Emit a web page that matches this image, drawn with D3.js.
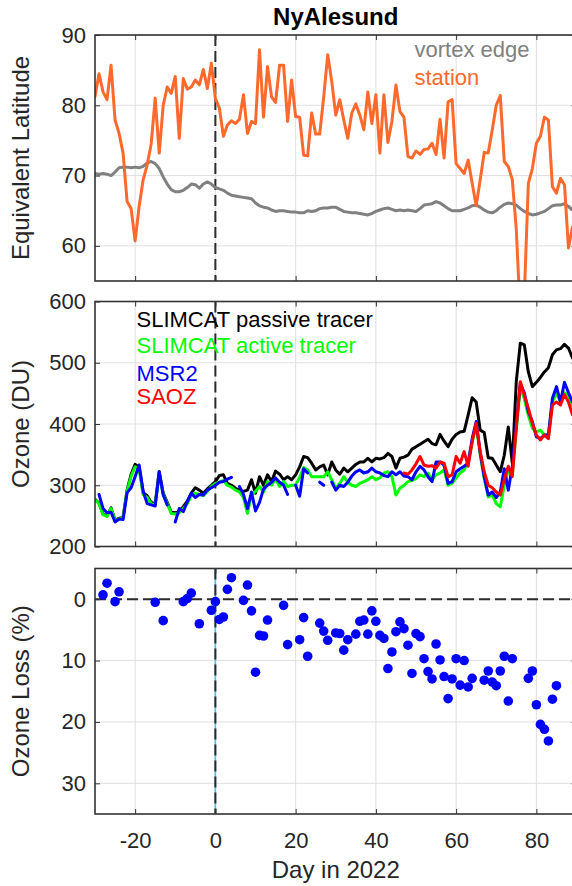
<!DOCTYPE html>
<html><head><meta charset="utf-8">
<script src="https://cdn.jsdelivr.net/npm/d3@7"></script>
<style>body{margin:0;background:#fff}svg{display:block}</style>
</head><body>
<svg id="c" width="572" height="886"></svg>
<script>
// ---------------- DATA ----------------
const dayStart = -30; // first day of the daily series (day -30 .. 89)
const xTickValues = [-20, 0, 20, 40, 60, 80];
const latTicks = [60, 70, 80, 90];
const ozoneTicks = [200, 300, 400, 500, 600];
const lossTicks = [0, 10, 20, 30];

// Panel 1: equivalent latitude
const station = [81.2, 84.5, 81.9, 80.8, 85.7, 77.9, 76.0, 73.2, 66.3, 65.3,
  60.7, 65.6, 69.4, 71.5, 74.5, 81.0, 73.2, 80.0, 82.6, 81.7,
  84.1, 75.3, 83.8, 82.3, 82.6, 83.6, 82.9, 85.1, 82.4, 86.0,
  81.0, 79.6, 75.6, 77.2, 77.8, 77.4, 78.0, 81.5, 76.0, 77.7,
  77.4, 87.9, 78.3, 85.5, 81.2, 80.4, 85.7, 85.7, 77.7, 83.6,
  78.4, 78.3, 72.9, 72.8, 78.9, 75.9, 75.9, 81.2, 87.2, 83.4,
  78.6, 80.8, 77.9, 75.3, 78.9, 80.2, 78.6, 76.5, 81.9, 77.4,
  81.5, 73.2, 81.5, 74.7, 77.7, 82.9, 79.1, 78.3, 72.7, 72.5,
  73.5, 73.0, 73.7, 73.8, 74.6, 73.0, 78.0, 72.5, 80.5, 80.8,
  71.7, 71.0, 70.3, 72.2, 68.9, 65.7, 69.4, 73.3, 73.2, 76.5,
  80.0, 81.4, 72.0, 71.3, 69.4, 62.3, 50.0, 53.0, 68.9, 71.0,
  74.6, 75.6, 78.3, 77.9, 68.4, 67.5, 69.6, 68.7, 59.7, 62.7];

const vortexEdge = [70.3, 70.2, 70.3, 70.2, 70.0, 70.5, 71.1, 71.2, 71.2, 71.1,
  71.2, 71.1, 71.3, 71.8, 72.0, 71.7, 71.0, 69.8, 68.8, 68.0,
  67.7, 67.7, 67.9, 68.3, 68.8, 68.7, 68.2, 68.8, 69.1, 68.8,
  68.3, 68.1, 67.9, 67.5, 67.2, 67.1, 67.0, 66.9, 66.8, 66.7,
  66.1, 65.7, 65.5, 65.4, 65.1, 64.9, 65.0, 65.0, 64.9, 64.8,
  64.8, 64.7, 64.7, 65.0, 64.9, 65.0, 65.3, 65.4, 65.4, 65.5,
  65.5, 65.2, 64.9, 64.8, 64.7, 64.7, 64.6, 64.5, 64.4, 64.6,
  64.9, 65.1, 65.3, 65.4, 65.2, 65.0, 65.1, 65.0, 65.1, 65.0,
  64.9, 65.3, 65.8, 65.9, 66.0, 66.3, 66.1, 65.7, 65.3, 65.0,
  65.0, 65.0, 65.2, 65.4, 65.7, 65.8, 65.5, 65.1, 64.8, 64.7,
  65.0, 65.5, 65.9, 66.1, 66.0, 65.8, 65.3, 64.9, 64.6, 64.4,
  64.5, 64.7, 64.9, 65.3, 65.7, 65.8, 65.8, 66.0, 65.6, 65.1];

// Panel 2: ozone columns (DU)
const passive = [277, 271, 253, 250, 263, 243, 246, 248, 292, 318,
  334, 330, 288, 283, 272, 270, 322, 287, 272, 256,
  255, 257, 265, 274, 287, 296, 292, 287, 294, 300,
  306, 316, 317, 303, 300, 295, 292, 290, 292, 309,
  287, 314, 300, 317, 306, 323, 318, 309, 314, 309,
  317, 330, 347, 345, 336, 325, 330, 333, 317, 338,
  325, 318, 328, 322, 328, 334, 338, 338, 344, 338,
  344, 343, 345, 352, 347, 328, 344, 346, 349, 359,
  363, 367, 371, 375, 368, 366, 383, 372, 363, 375,
  383, 387, 388, 415, 443, 436, 390, 386, 345, 344,
  333, 322, 349, 395, 336, 470, 532, 529, 485, 461,
  468, 476, 485, 492, 513, 521, 523, 530, 524, 508];

const active = [276, 270, 252, 249, 262, 242, 245, 247, 290, 315,
  330, 326, 285, 280, 270, 268, 318, 285, 270, 254,
  253, 255, 262, 270, 283, 287, 285, 283, 290, 298,
  303, 305, 308, 300, 297, 292, 289, 280, 254, 285,
  290, 298, 289, 306, 300, 311, 298, 306, 298, 300,
  300, 313, 329, 325, 314, 314, 314, 314, 322, 309,
  295, 303, 314, 305, 300, 298, 303, 306, 309, 314,
  309, 312, 320, 322, 314, 284, 295, 300, 306, 308,
  311, 317, 314, 320, 309, 317, 320, 325, 300, 303,
  312, 320, 325, 338, 371, 398, 350, 311, 281, 284,
  270, 265, 300, 325, 317, 390, 461, 441, 414, 393,
  387, 390, 382, 382, 436, 450, 436, 451, 446, 426];

const msr2 = [null, 285, 262, 255, 256, 240, 245, 244, 288, 296,
  314, 333, 290, 270, 268, 266, 322, 284, 268, null,
  240, 262, 257, 273, 287, 280, 285, 284, 292, 296,
  300, 305, 306, 310, 313, null, 298, 285, 262, 289,
  258, 272, 294, 300, 305, 312, 305, 300, 285, null,
  300, 282, 327, 320, null, null, 305, 300, null, 305,
  292, 300, 298, 305, 315, 322, 325, 320, 322, 328,
  322, 320, 316, 314, 322, 317, 322, 315, 314, 309,
  322, 331, 325, 314, 306, 338, 338, 333, 303, 306,
  322, 327, 331, 336, 376, 404, 353, 314, 284, 289,
  280, 289, 327, 292, 331, 400, 466, 451, 420, 404,
  379, 376, 382, 382, 442, 461, 436, 468, 451, 436];

const saoz = [null, null, null, null, null, null, null, null, null, null,
  null, null, null, null, null, null, null, null, null, null,
  null, null, null, null, null, null, null, null, null, null,
  null, null, null, null, null, null, null, null, null, null,
  null, null, null, null, null, null, null, null, null, null,
  null, null, null, null, null, null, null, null, null, null,
  null, null, null, null, null, null, null, null, null, null,
  null, null, null, null, null, null, null, 320, 318, 325,
  335, 347, 333, 331, 332, 328, 338, 336, 314, 317,
  347, 336, 355, 331, 371, 401, 355, 322, 300, 296,
  289, 284, 309, 331, 314, 395, 469, 447, 426, 401,
  382, 374, 382, 376, 431, 436, 431, 448, 436, 415];

// Panel 3: ozone loss (%)
const lossDays = [-28, -27, -25, -24, -15, -13, -8, -7, -6, -4, -1, 0, 1, 2, 3, 4, 7, 8, 9, 10,
  11, 12, 13, 17, 18, 21, 22, 23, 26, 27, 28, 30, 31, 32, 33, 35, 36, 37, 38, 39,
  40, 41, 42, 43, 44, 45, 46, 47, 48, 49, 50, 51, 52, 53, 54, 55, 56, 57, 58, 59,
  60, 61, 62, 63, 64, 67, 68, 69, 70, 71, 72, 73, 74, 78, 79, 80, 81, 82, 83, 84, 85];
const lossValues = [-0.7, -2.6, 0.4, -1.2, 0.5, 3.5, 0.4, -0.1, -1.0, 4.0, 1.8, 0.4, 3.3, 2.9, -1.6, -3.5, 0.2, -2.3, 1.9, 11.9,
  5.9, 6.0, 3.4, 1.0, 7.4, 6.6, 3.0, 9.3, 3.9, 5.2, 6.7, 5.5, 5.6, 8.3, 6.6, 5.7, 3.6, 3.4, 5.7, 1.9,
  3.6, 5.9, 6.4, 11.3, 8.6, 5.3, 3.7, 4.8, 7.5, 12.1, 5.6, 6.1, 9.7, 11.8, 13.0, 7.3, 9.9, 12.6, 16.2, 13.0,
  9.7, 14.0, 10.0, 14.3, 12.9, 13.2, 11.7, 13.5, 14.1, 11.7, 9.3, 16.6, 9.7, 12.9, 11.7, 17.2, 20.4, 21.2, 23.1, 16.3, 14.1];

// ---------------- DRAWING ----------------
const FONT = "'Liberation Sans', Arial, Helvetica, sans-serif";
const TXT = '#262626';
const svg = d3.select('#c');
const days = station.map((_, i) => dayStart + i);

const x = d3.scaleLinear().domain([-30, 90]).range([95, 576.5]);
const x0 = x.range()[0], x1 = x.range()[1];

const panels = [
  { y: d3.scaleLinear().domain([55, 90]).range([281, 35]), ticks: latTicks, label: 'Equivalent Latitude' },
  { y: d3.scaleLinear().domain([200, 600]).range([546.5, 301.5]), ticks: ozoneTicks, label: 'Ozone (DU)' },
  { y: d3.scaleLinear().domain([-5, 35]).range([568.5, 814]), ticks: lossTicks, label: 'Ozone Loss (%)' }
];

const defs = svg.append('defs');

panels.forEach((p, i) => {
  const [yb, yt] = [d3.max(p.y.range()), d3.min(p.y.range())];
  p.top = yt; p.bottom = yb;
  defs.append('clipPath').attr('id', 'clip' + i)
    .append('rect').attr('x', x0).attr('y', yt).attr('width', x1 - x0).attr('height', yb - yt);

  const g = svg.append('g');
  p.g = g;
  // grid
  g.selectAll('.vg').data(xTickValues).join('line')
    .attr('x1', d => x(d)).attr('x2', d => x(d)).attr('y1', yt).attr('y2', yb)
    .attr('stroke', '#dfdfdf').attr('stroke-width', 1);
  g.selectAll('.hg').data(p.ticks).join('line')
    .attr('x1', x0).attr('x2', x1).attr('y1', d => p.y(d)).attr('y2', d => p.y(d))
    .attr('stroke', '#dfdfdf').attr('stroke-width', 1);

  // zero day line
  if (i === 2) {
    g.append('line').attr('x1', x(0)).attr('x2', x(0)).attr('y1', yt).attr('y2', yb)
      .attr('stroke', '#4DBEEE').attr('stroke-width', 1.6);
    g.append('line').attr('x1', x0).attr('x2', x1).attr('y1', p.y(0)).attr('y2', p.y(0))
      .attr('stroke', '#2a2a2a').attr('stroke-width', 2).attr('stroke-dasharray', '11,5');
  }
  g.append('line').attr('x1', x(0)).attr('x2', x(0)).attr('y1', yt).attr('y2', yb)
    .attr('stroke', '#2a2a2a').attr('stroke-width', 2).attr('stroke-dasharray', '11,5');

  p.data = g.append('g').attr('clip-path', `url(#clip${i})`);
});

function drawLine(p, values, color, w) {
  const line = d3.line().defined(d => d[1] != null)
    .x(d => x(d[0])).y(d => p.y(d[1]));
  p.data.append('path').datum(days.map((d, k) => [d, values[k]]))
    .attr('d', line).attr('fill', 'none').attr('stroke', color)
    .attr('stroke-width', w).attr('stroke-linejoin', 'round').attr('stroke-linecap', 'round');
}

// Panel 1
drawLine(panels[0], vortexEdge, '#808080', 3);
drawLine(panels[0], station, '#FF6A2C', 3);
// Panel 2
drawLine(panels[1], passive, '#000000', 3);
drawLine(panels[1], active, '#00FF00', 3);
drawLine(panels[1], msr2, '#0000FF', 3);
drawLine(panels[1], saoz, '#FF0000', 3);
// Panel 3
panels[2].data.selectAll('circle').data(lossDays.map((d, k) => [d, lossValues[k]])).join('circle')
  .attr('cx', d => x(d[0])).attr('cy', d => panels[2].y(d[1])).attr('r', 4.8).attr('fill', '#0000FF');

// Axes, frames
panels.forEach((p, i) => {
  const g = p.g;
  const fmt = d => String(d);
  const left = g.append('g').attr('transform', `translate(${x0},0)`)
    .call(d3.axisLeft(p.y).tickValues(p.ticks).tickSize(-5).tickPadding(9).tickFormat(fmt));
  const right = g.append('g').attr('transform', `translate(${x1},0)`)
    .call(d3.axisRight(p.y).tickValues(p.ticks).tickSize(-5).tickFormat(''));
  const top = g.append('g').attr('transform', `translate(0,${p.top})`)
    .call(d3.axisTop(x).tickValues(xTickValues).tickSize(-5).tickFormat(''));
  const bottom = g.append('g').attr('transform', `translate(0,${p.bottom})`)
    .call(d3.axisBottom(x).tickValues(xTickValues).tickSize(-5).tickPadding(18)
      .tickFormat(i === 2 ? fmt : ''));
  [left, right, top, bottom].forEach(a => {
    a.select('.domain').remove();
    a.selectAll('.tick line').attr('stroke', '#333').attr('stroke-width', 1);
    a.selectAll('text').attr('fill', TXT).style('font-family', FONT).style('font-size', '22px');
  });
  g.append('rect').attr('x', x0).attr('y', p.top).attr('width', x1 - x0).attr('height', p.bottom - p.top)
    .attr('fill', 'none').attr('stroke', '#333').attr('stroke-width', 1.6);
  // y label
  const cy = (p.top + p.bottom) / 2;
  svg.append('text').attr('transform', `translate(28.5,${cy}) rotate(-90)`)
    .attr('text-anchor', 'middle').attr('fill', TXT)
    .style('font-family', FONT).style('font-size', '24px').text(p.label);
});

// Title and x label
const xc = (x0 + x1) / 2;
svg.append('text').attr('x', xc).attr('y', 25).attr('text-anchor', 'middle')
  .attr('fill', '#000').style('font-family', FONT).style('font-size', '24px').style('font-weight', 'bold')
  .text('NyAlesund');
svg.append('text').attr('x', xc).attr('y', 878).attr('text-anchor', 'middle')
  .attr('fill', TXT).style('font-family', FONT).style('font-size', '24px').text('Day in 2022');

// Legends (text annotations)
const legend1 = [['vortex edge', '#808080', 57], ['station', '#FF6A2C', 84.5]];
legend1.forEach(l => svg.append('text').attr('x', 414.5).attr('y', l[2]).attr('fill', l[1])
  .style('font-family', FONT).style('font-size', '22px').text(l[0]));
const legend2 = [['SLIMCAT passive tracer', '#000000', 327], ['SLIMCAT active tracer', '#00FF00', 352.5],
  ['MSR2', '#0000FF', 380.5], ['SAOZ', '#FF0000', 404]];
legend2.forEach(l => svg.append('text').attr('x', 136.5).attr('y', l[2]).attr('fill', l[1])
  .style('font-family', FONT).style('font-size', '22px').text(l[0]));
</script>
</body></html>
